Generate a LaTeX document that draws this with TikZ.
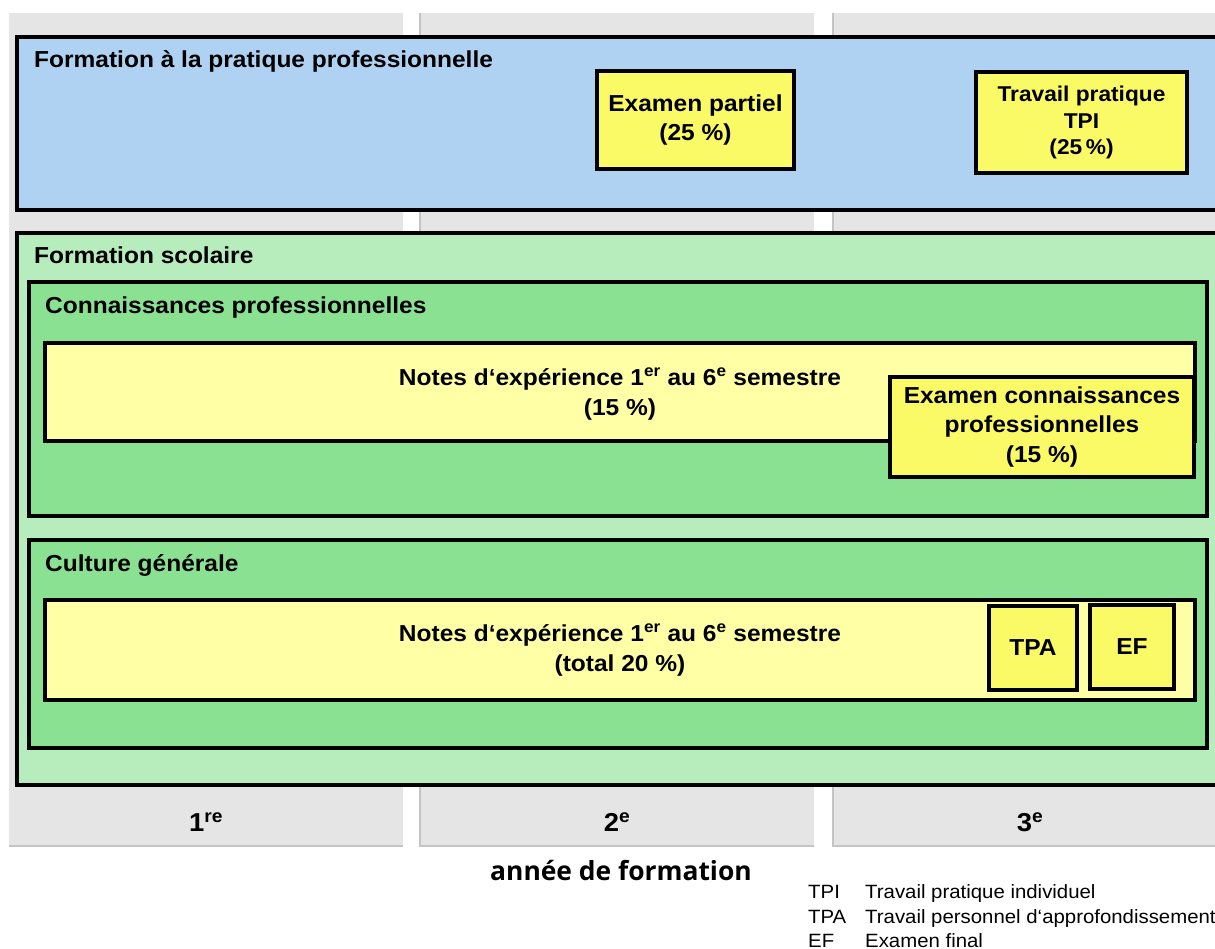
\documentclass[tikz,border=0pt]{standalone}
\usepackage{fontspec}
\setmainfont{Liberation Sans}[FakeStretch=1.06]
\newfontfamily\osans{Open Sans}
\definecolor{bluef}{RGB}{175,210,243}
\definecolor{greenl}{RGB}{183,236,188}
\definecolor{greenm}{RGB}{137,225,145}
\definecolor{yellowp}{RGB}{255,255,166}
\definecolor{yellowf}{RGB}{250,250,102}
\definecolor{colgray}{RGB}{229,229,229}
\definecolor{colline}{RGB}{196,196,196}
\newcommand\bigbf{\fontsize{23.2}{30}\selectfont\bfseries}
\begin{document}
\begin{tikzpicture}[x=1bp,y=-1bp,
  frame/.style={draw=black, line width=4.5bp, inner sep=0pt, outer sep=0pt},
  ybox/.style={frame, fill=yellowf, align=center, font=\bigbf},
  pbox/.style={frame, fill=yellowp, align=center, font=\bigbf},
  ttl/.style={anchor=base west, inner sep=0pt, font=\bigbf},
  yr/.style={inner sep=0pt, font=\fontsize{26}{30}\selectfont\bfseries},
  leg/.style={anchor=base west, inner sep=0pt, font=\fontsize{19.3}{23}\selectfont}]
\useasboundingbox (0,0) rectangle (1215,949);
\clip (0,0) rectangle (1215,949);
% year columns
\fill[colgray] (9,13) rectangle (403,846);
\draw[colline, line width=1.5bp] (9,846) -- (403,846);
\fill[colgray] (420,13) rectangle (814,846);
\draw[colline, line width=1.5bp] (420,13) -- (420,846) -- (814,846);
\fill[colgray] (833,13) rectangle (1230,846);
\draw[colline, line width=1.5bp] (833,13) -- (833,846) -- (1230,846);
% practical training
\node[frame, fill=bluef, minimum width=1213bp, minimum height=173bp] (prat) at (623.5,123.5) {};
\node[ttl] (pratT) at (34,67) {Formation à la pratique professionnelle};
\node[ybox, minimum width=197bp, minimum height=98bp] (ep) at (695.5,120) {Examen partiel\\(25 \%)};
\node[ybox, minimum width=211bp, minimum height=101bp, font=\fontsize{21.5}{27}\selectfont\bfseries] (tpi) at (1081.5,122.5) {Travail pratique\\TPI\\(25\,\%)};
% school
\node[frame, fill=greenl, minimum width=1213bp, minimum height=552bp] (scol) at (623.5,509) {};
\node[ttl] (scolT) at (34,263) {Formation scolaire};
\node[frame, fill=greenm, minimum width=1178bp, minimum height=234bp] (conn) at (618,399) {};
\node[ttl] (connT) at (45,313) {Connaissances professionnelles};
\node[pbox, minimum width=1150bp, minimum height=98bp, text depth=0pt] (n1) at (620,392) {Notes d‘expérience 1\textsuperscript{er} au 6\textsuperscript{e} semestre\\(15 \%)};
\node[ybox, minimum width=304bp, minimum height=100bp] (ek) at (1042,427) {Examen connaissances\\professionnelles\\(15 \%)};
\node[frame, fill=greenm, minimum width=1178bp, minimum height=208bp] (cult) at (618,644) {};
\node[ttl] (cultT) at (45,571) {Culture générale};
\node[pbox, minimum width=1150bp, minimum height=100bp] (n2) at (620,650) {Notes d‘expérience 1\textsuperscript{er} au 6\textsuperscript{e} semestre\\(total 20 \%)};
\node[ybox, minimum width=88bp, minimum height=84bp] (tpa) at (1033,648) {TPA};
\node[ybox, minimum width=84bp, minimum height=84bp] (ef) at (1132,647) {EF};
% year labels
\node[yr] (y1) at (206,822) {1\textsuperscript{re}};
\node[yr] (y2) at (617,822) {2\textsuperscript{e}};
\node[yr] (y3) at (1030,822) {3\textsuperscript{e}};
\node[inner sep=0pt, font=\osans\bfseries\fontsize{26.5}{30}\selectfont] (annee) at (621,871) {année de formation};
% legend
\node[leg] (l1a) at (808,898) {TPI};
\node[leg] (l1b) at (865,898) {Travail pratique individuel};
\node[leg] (l2a) at (808,923) {TPA};
\node[leg] (l2b) at (865,923) {Travail personnel d‘approfondissement};
\node[leg] (l3a) at (808,947) {EF};
\node[leg] (l3b) at (865,947) {Examen final};
\end{tikzpicture}
\end{document}
